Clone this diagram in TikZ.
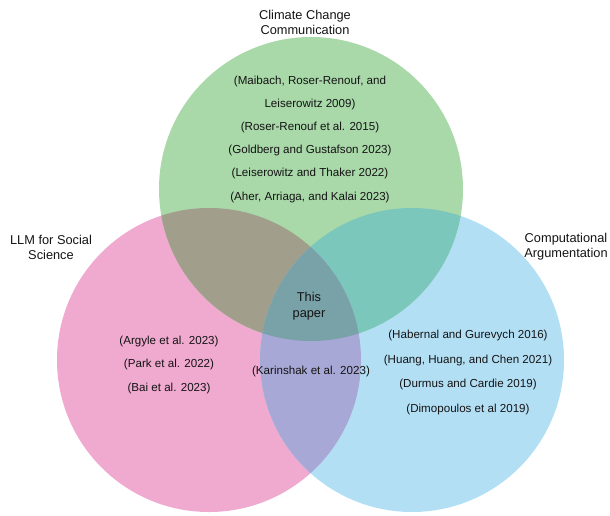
\documentclass[tikz,border=0pt]{standalone}
\usepackage{fontspec}
\setmainfont{Liberation Sans}
\definecolor{cpink}{HTML}{F0A9CF}
\definecolor{cblue}{HTML}{B3DFF5}
\definecolor{cgreen}{HTML}{A9D8A9}
\definecolor{cpg}{HTML}{A19E8B}
\definecolor{cgb}{HTML}{7CC7BC}
\definecolor{cpb}{HTML}{A8A8D6}
\definecolor{call}{HTML}{79A1A8}
\definecolor{ctext}{HTML}{141414}
\tikzset{
  setcircle/.style={circle, minimum size=304pt, inner sep=0pt, draw=none},
  title/.style={align=center, text=ctext, font=\fontsize{12.8}{15}\selectfont},
  refs/.style={align=center, text=ctext, font=\fontsize{11.6}{#1}\selectfont},
}
\begin{document}
\begin{tikzpicture}[x=1pt,y=-1pt]
\useasboundingbox (0,0) rectangle (610,515);
% set circles
\node[setcircle, fill=cpink] (llm) at (209,360) {};
\node[setcircle, fill=cblue] (arg) at (412,360) {};
\node[setcircle, fill=cgreen] (ccc) at (311,189) {};
% overlaps
\begin{scope}
  \clip (llm.center) circle[radius=152pt];
  \fill[cpg] (ccc.center) circle[radius=152pt];
\end{scope}
\begin{scope}
  \clip (ccc.center) circle[radius=152pt];
  \fill[cgb] (arg.center) circle[radius=152pt];
\end{scope}
\begin{scope}
  \clip (llm.center) circle[radius=152pt];
  \fill[cpb] (arg.center) circle[radius=152pt];
\end{scope}
\begin{scope}
  \clip (llm.center) circle[radius=152pt];
  \clip (ccc.center) circle[radius=152pt];
  \fill[call] (arg.center) circle[radius=152pt];
\end{scope}
% titles
\node[title] (tccc) at (305,22) {Climate Change\\Communication};
\node[title] (tllm) at (51,247) {LLM for Social\\Science};
\node[title] (targ) at (566,247) {Computational\\Argumentation};
\node[title, font=\fontsize{12.8}{16}\selectfont] (paper) at (309,306) {This\\paper};
% references
\node[refs=23.2] (rccc) at (310,139) {(Maibach, Roser-Renouf, and\\Leiserowitz 2009)\\(Roser-Renouf et al. 2015)\\(Goldberg and Gustafson 2023)\\(Leiserowitz and Thaker 2022)\\(Aher, Arriaga, and Kalai 2023)};
\node[refs=23.5] (rllm) at (169,364.5) {(Argyle et al. 2023)\\(Park et al. 2022)\\(Bai et al. 2023)};
\node[refs=24.7] (rarg) at (468,372.5) {(Habernal and Gurevych 2016)\\(Huang, Huang, and Chen 2021)\\(Durmus and Cardie 2019)\\(Dimopoulos et al 2019)};
\node[refs=15] (rkar) at (311,371) {(Karinshak et al. 2023)};
\end{tikzpicture}
\end{document}
